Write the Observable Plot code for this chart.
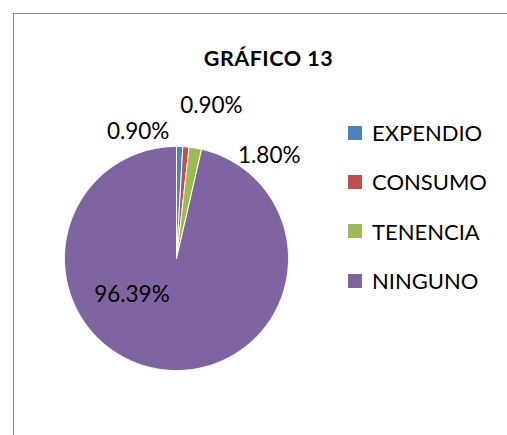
<!DOCTYPE html>
<html>
<head>
<meta charset="utf-8">
<script src="https://cdn.jsdelivr.net/npm/d3@7"></script>
<script src="https://cdn.jsdelivr.net/npm/@observablehq/plot@0.6"></script>
<style>
  html, body { margin: 0; padding: 0; background: #fff; }
  #wrap { position: relative; width: 507px; height: 435px; overflow: hidden; font-family: Lato, "Open Sans", sans-serif; }
  #frame { position: absolute; left: 13px; top: 13px; width: 600px; height: 600px; border: 1.5px solid #898989; box-sizing: border-box; }
  #chart { position: absolute; left: 0; top: 0; }
  #title { position: absolute; left: 0; width: 537px; top: 45px; text-align: center; font-weight: bold; font-size: 21.5px; letter-spacing: 0.5px; color: #000; }
  #legend { position: absolute; left: 348px; top: 108px; }
  .row { display: flex; align-items: center; height: 49.3px; font-size: 22px; color: #000; }
  .sw { width: 14px; height: 14px; margin-right: 10px; }
</style>
</head>
<body>
<div id="wrap">
  <div id="frame"></div>
  <div id="chart"></div>
  <div id="title">GRÁFICO 13</div>
  <div id="legend"></div>
</div>
<script>
const categories = ["EXPENDIO", "CONSUMO", "TENENCIA", "NINGUNO"];
const values = [0.90, 0.90, 1.80, 96.39];
const labels = ["0.90%", "0.90%", "1.80%", "96.39%"];
const colors = ["#4F81BD", "#C0504D", "#9BBB59", "#8064A2"];

// Layout (pixels)
const W = 507, H = 435, cx = 176, cy = 258, R = 112;
// Label placement: radial factor and pixel offsets
const labelRadius = [1.15, 1.15, 1.15, 0.6];
const labelOffset = [[-42, 2], [24, -24], [71, 24], [-37, -30]];

const data = categories.map((c, i) => ({cat: c, value: values[i], label: labels[i]}));
const arcs = d3.pie().sort(null).value(d => d.value).startAngle(0).endAngle(2 * Math.PI)(data);

// polygon points for each slice (unit circle coords)
const pts = [];
for (const a of arcs) {
  const cat = a.data.cat;
  pts.push({cat, x: 0, y: 0});
  const n = Math.max(2, Math.ceil((a.endAngle - a.startAngle) / (Math.PI / 360)));
  for (let k = 0; k <= n; k++) {
    const t = a.startAngle + (a.endAngle - a.startAngle) * k / n;
    pts.push({cat, x: Math.sin(t), y: Math.cos(t)});
  }
  pts.push({cat, x: 0, y: 0});
}

const labelData = arcs.map((a, i) => {
  const m = (a.startAngle + a.endAngle) / 2;
  const r = labelRadius[i];
  return {
    label: a.data.label,
    x: r * Math.sin(m) + labelOffset[i][0] / R,
    y: r * Math.cos(m) - labelOffset[i][1] / R
  };
});

const chart = Plot.plot({
  width: W, height: H,
  margin: 0,
  x: {domain: [-1, 1], range: [cx - R, cx + R], axis: null},
  y: {domain: [-1, 1], range: [cy + R, cy - R], axis: null},
  color: {domain: categories, range: colors},
  style: {background: "transparent", fontFamily: "Lato, 'Open Sans', sans-serif"},
  marks: [
    Plot.line(pts, {x: "x", y: "y", z: "cat", fill: "cat", stroke: "white", strokeWidth: 1, strokeLinejoin: "round", curve: "linear"}),
    Plot.text(labelData, {x: "x", y: "y", text: "label", fontSize: 22.5, fill: "#000"})
  ]
});
document.getElementById("chart").appendChild(chart);

const legend = document.getElementById("legend");
categories.forEach((c, i) => {
  const row = document.createElement("div");
  row.className = "row";
  row.innerHTML = `<div class="sw" style="background:${colors[i]}"></div><span>${c}</span>`;
  legend.appendChild(row);
});
</script>
</body>
</html>
